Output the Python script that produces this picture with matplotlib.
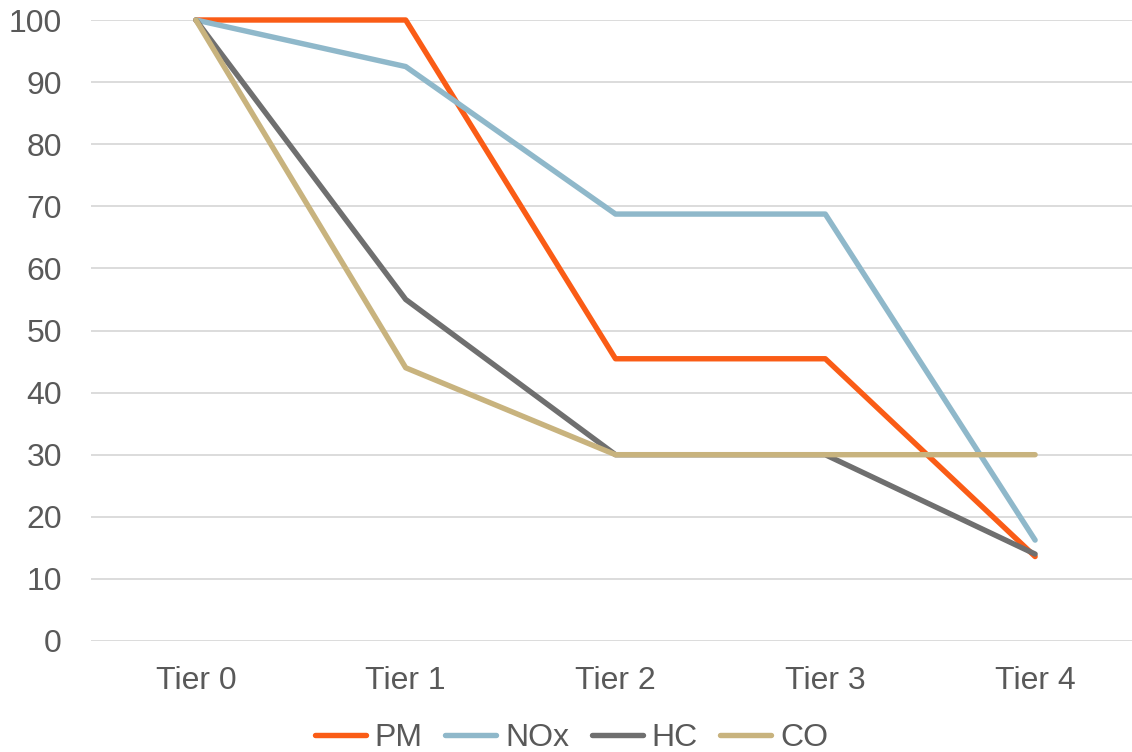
import matplotlib.pyplot as plt
import numpy as np

plt.rcParams['font.family'] = ['Liberation Sans', 'DejaVu Sans']

tiers = ['Tier 0', 'Tier 1', 'Tier 2', 'Tier 3', 'Tier 4']
pm = [100, 100, 45.45, 45.45, 13.6]
nox = [100, 92.5, 68.75, 68.75, 16.25]
hc = [100, 55, 30, 30, 14]
co = [100, 44, 30, 30, 30]

series = [('PM', pm, '#FA5C16'), ('NOx', nox, '#8FB8CA'),
          ('HC', hc, '#6F6F6F'), ('CO', co, '#C8B37E')]

fig = plt.figure(figsize=(11.32, 7.52), dpi=100)
ax = fig.add_axes([91/1132, 1 - 641/752, 1 - 91/1132, 621/752])

x = np.arange(len(tiers))
for name, vals, col in series:
    ax.plot(x, vals, color=col, lw=3.9, label=name, solid_capstyle='round', clip_on=False)

ax.set_ylim(0, 100)
ax.set_yticks(range(0, 101, 10))
ax.set_xlim(-0.5, 4.5 - 8/209.75)
ax.set_xticks(x)
ax.set_xticklabels(tiers)
ax.grid(axis='y', color='#D9D9D9', lw=1.3)
ax.set_axisbelow(True)
for s in ax.spines.values():
    s.set_visible(False)
ax.tick_params(length=0, labelsize=23, labelcolor='#595959')
ax.tick_params(axis='y', pad=21)
ax.tick_params(axis='x', pad=18)

ax.legend(loc='center', bbox_to_anchor=(0.5 - 40/1041, -(738 - 641)/621), ncol=4, frameon=False,
          fontsize=23, labelcolor='#595959', handlelength=1.6, handletextpad=0.28,
          columnspacing=0.7)

plt.savefig('out.png', dpi=100)
